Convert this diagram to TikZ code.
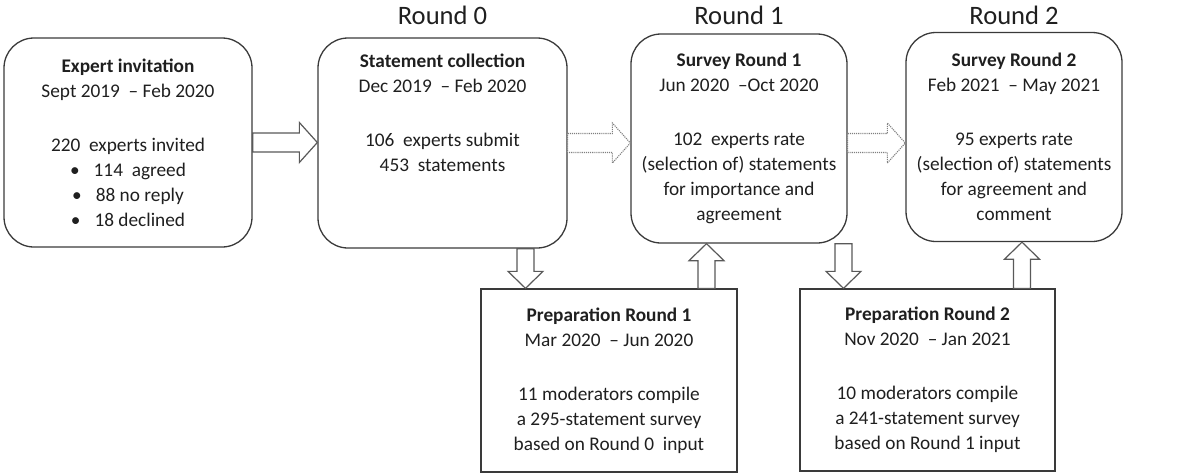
\documentclass[tikz,border=0pt]{standalone}
\usepackage{fontspec}
\setmainfont{Carlito}
\usetikzlibrary{calc}
\definecolor{boxline}{HTML}{3A3A3A}
\definecolor{arrline}{HTML}{595959}
\definecolor{dotline}{HTML}{7F7F7F}
\definecolor{txtgray}{HTML}{1F1F1F}

\begin{document}
\begin{tikzpicture}[x=1pt,y=-1pt]
\tikzstyle{every node}=[text=txtgray,font=\fontsize{19.3}{25}\selectfont,align=center]
\tikzstyle{stage}=[draw=boxline,line width=1.3pt,rounded corners=30pt,inner sep=0pt]
\tikzstyle{prepbox}=[draw=boxline,line width=1.3pt,inner sep=0pt]
\tikzstyle{roundlabel}=[font=\fontsize{26.6}{30}\selectfont]
\tikzstyle{solidarr}=[draw=arrline,fill=white,line width=1.2pt,line join=miter]
\tikzstyle{dotarr}=[draw=dotline,fill=white,line width=1.1pt,densely dotted]
\tikzstyle{rarrow}=[to path={let \p1=(\tikztostart), \p2=(\tikztotarget) in
  (\x1,\y1+9.5pt) -- (\x2-18pt,\y1+9.5pt) -- (\x2-18pt,\y1+20pt) -- (\x2,\y1)
  -- (\x2-18pt,\y1-20pt) -- (\x2-18pt,\y1-9.5pt) -- (\x1,\y1-9.5pt) -- cycle}]
\tikzstyle{darrow}=[to path={let \p1=(\tikztostart), \p2=(\tikztotarget) in
  (\x1-8.5pt,\y1) -- (\x1-8.5pt,\y2+17pt) -- (\x1-17.5pt,\y2+17pt) -- (\x1,\y2)
  -- (\x1+17.5pt,\y2+17pt) -- (\x1+8.5pt,\y2+17pt) -- (\x1+8.5pt,\y1) -- cycle}]
\tikzstyle{uarrow}=[to path={let \p1=(\tikztostart), \p2=(\tikztotarget) in
  (\x1-8.5pt,\y1) -- (\x1-8.5pt,\y2-17pt) -- (\x1-17.5pt,\y2-17pt) -- (\x1,\y2)
  -- (\x1+17.5pt,\y2-17pt) -- (\x1+8.5pt,\y2-17pt) -- (\x1+8.5pt,\y1) -- cycle}]
\useasboundingbox (0,0) rectangle (1199,474);

% rounds
\node[roundlabel] (r0) at (442.5,15) {Round 0};
\node[roundlabel] (r1) at (739,15) {Round 1};
\node[roundlabel] (r2) at (1014,15) {Round 2};

% stages
\node[stage,minimum width=248pt,minimum height=209pt] (inv) at (128,142.5)
  {\textbf{Expert invitation}\\ Sept 2019~ -- Feb 2020\\[29pt]
   220~ experts invited\\ \textbullet\hspace{14pt}114~ agreed\\
   \textbullet\hspace{14pt}88 no reply\\ \textbullet\hspace{14pt}18 declined};
\node[stage,minimum width=249pt,minimum height=210pt] (col) at (442.5,143) {};
\node[anchor=north] (coltext) at ([yshift=-13pt]col.north)
  {\textbf{Statement collection}\\ Dec 2019~ -- Feb 2020\\[29pt]
   106~ experts submit\\ 453~ statements};
\node[stage,minimum width=216pt,minimum height=209pt] (sr1) at (739,138.5)
  {\textbf{Survey Round 1}\\ Jun 2020~ --Oct 2020\\[29pt]
   102~ experts rate\\ (selection of) statements\\ for importance and\\ agreement};
\node[stage,minimum width=216pt,minimum height=209pt] (sr2) at (1014,137)
  {\textbf{Survey Round 2}\\ Feb 2021~ -- May 2021\\[29pt]
   95 experts rate\\ (selection of) statements\\ for agreement and\\ comment};
\node[prepbox,minimum width=256pt,minimum height=183pt] (prep1) at (609,380.5)
  {\textbf{Preparation Round 1}\\ Mar 2020~ -- Jun 2020\\[29pt]
   11 moderators compile\\ a 295-statement survey\\ based on Round 0~ input};
\node[prepbox,minimum width=255pt,minimum height=182pt] (prep2) at (927.5,380)
  {\textbf{Preparation Round 2}\\ Nov 2020~ -- Jan 2021\\[29pt]
   10 moderators compile\\ a 241-statement survey\\ based on Round 1 input};

% arrows
\draw[solidarr] (inv.east) to[rarrow] (col.west);
\draw[dotarr] (col.east) to[rarrow] (sr1.west);
\draw[dotarr] (sr1.east |- col.east) to[rarrow] (sr2.west);
\draw[solidarr] ([xshift=83pt]col.south) to[darrow] (prep1.north);
\draw[solidarr] ([xshift=97.5pt]prep1.north) to[uarrow] (sr1.south);
\draw[solidarr] ([xshift=104.5pt]sr1.south) to[darrow] (prep2.north);
\draw[solidarr] ([xshift=94.5pt]prep2.north) to[uarrow] (sr2.south);
\end{tikzpicture}
\end{document}
